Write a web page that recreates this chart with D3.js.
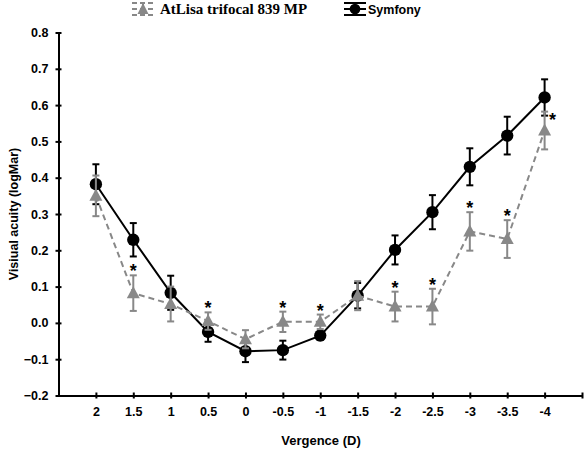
<!DOCTYPE html>
<html><head><meta charset="utf-8">
<script src="https://cdn.jsdelivr.net/npm/d3@7"></script>
<style>body{margin:0;background:#fff}svg{display:block}</style>
</head><body><svg id="c" width="584" height="449"></svg>
<script>
const categories = ["2","1.5","1","0.5","0","-0.5","-1","-1.5","-2","-2.5","-3","-3.5","-4"];
const symfonyValues = [0.382,0.229,0.083,-0.025,-0.078,-0.075,-0.035,0.075,0.201,0.305,0.43,0.516,0.621];
const symfonyErrors = [0.055,0.046,0.047,0.027,0.03,0.026,0.012,0.035,0.04,0.047,0.051,0.052,0.05];
const atlisaValues = [0.35,0.082,0.052,0.005,-0.045,0.003,0.003,0.075,0.045,0.045,0.252,0.231,0.53];
const atlisaErrors = [0.056,0.049,0.048,0.024,0.025,0.028,0.02,0.04,0.041,0.049,0.053,0.052,0.052];
const significant = [false,true,false,true,false,true,true,false,true,true,true,true,true];
const yTicks = [-0.2,-0.1,0.0,0.1,0.2,0.3,0.4,0.5,0.6,0.7,0.8];

const svg = d3.select("#c");
const x = d3.scaleLinear().domain([0, categories.length + 1]).range([58.5, 582]);
const y = d3.scaleLinear().domain([-0.2, 0.8]).range([395.5, 32.5]);
const font = "Arial, 'Liberation Sans', sans-serif";

// axes
const yAxis = svg.append("g").attr("transform","translate(58.5,0)")
  .call(d3.axisLeft(y).tickValues(yTicks).tickFormat(d3.format(".1f")).tickSizeInner(3).tickSizeOuter(0));
yAxis.select(".domain").attr("stroke","#000").attr("stroke-width",2);
yAxis.selectAll(".tick line").attr("x2",3).attr("x1",-3).attr("stroke-width",2);
yAxis.selectAll(".tick text").attr("x",-10).attr("font-family",font).attr("font-weight","bold").attr("font-size",12.5).attr("fill","#000");

const xTickVals = d3.range(1, categories.length + 2);
const xAxis = svg.append("g").attr("transform","translate(0,395.5)")
  .call(d3.axisBottom(x).tickValues(xTickVals).tickFormat(i => categories[i-1] || "").tickSizeInner(3).tickSizeOuter(0));
xAxis.select(".domain").attr("stroke","#000").attr("stroke-width",2);
xAxis.selectAll(".tick line").attr("y1",-3).attr("y2",3).attr("stroke-width",2);
xAxis.selectAll(".tick text").attr("y",12).attr("font-family",font).attr("font-weight","bold").attr("font-size",12.5).attr("fill","#000");

// axis titles
svg.append("text").attr("x",321).attr("y",445).attr("text-anchor","middle")
  .attr("font-family",font).attr("font-weight","bold").attr("font-size",13).text("Vergence (D)");
svg.append("text").attr("transform","translate(18,214) rotate(-90)").attr("text-anchor","middle")
  .attr("font-family",font).attr("font-weight","bold").attr("font-size",12.5).text("Visiual acuity (logMar)");

function drawSeries(vals, errs, color, dashed, shape) {
  const g = svg.append("g");
  const pts = vals.map((v,i)=>({v, e: errs[i], i}));
  const line = d3.line().x(d=>x(d.i+1)).y(d=>y(d.v));
  g.append("path").datum(pts).attr("d",line).attr("fill","none").attr("stroke",color)
    .attr("stroke-width",2).attr("stroke-dasharray", dashed ? "6,4" : null);
  const eb = g.selectAll(".eb").data(pts).join("g");
  eb.append("line").attr("x1",d=>x(d.i+1)).attr("x2",d=>x(d.i+1)).attr("y1",d=>y(d.v+d.e)).attr("y2",d=>y(d.v-d.e)).attr("stroke",color).attr("stroke-width",2);
  eb.append("line").attr("x1",d=>x(d.i+1)-3.5).attr("x2",d=>x(d.i+1)+3.5).attr("y1",d=>y(d.v+d.e)).attr("y2",d=>y(d.v+d.e)).attr("stroke",color).attr("stroke-width",2);
  eb.append("line").attr("x1",d=>x(d.i+1)-3.5).attr("x2",d=>x(d.i+1)+3.5).attr("y1",d=>y(d.v-d.e)).attr("y2",d=>y(d.v-d.e)).attr("stroke",color).attr("stroke-width",2);
  g.selectAll(".m").data(pts).join("path")
    .attr("transform",d=>`translate(${x(d.i+1)},${y(d.v)})`)
    .attr("d", shape === "circle" ? d3.symbol(d3.symbolCircle, 120)() : "M0,-7L6.5,5L-6.5,5Z")
    .attr("fill",color);
}
drawSeries(symfonyValues, symfonyErrors, "#000", false, "circle");
drawSeries(atlisaValues, atlisaErrors, "#888", true, "triangle");

// significance stars
svg.append("g").selectAll("text").data(atlisaValues.map((v,i)=>({v,i,e:atlisaErrors[i]})).filter(d=>significant[d.i]))
  .join("text")
  .attr("x",d=> d.i === categories.length-1 ? x(d.i+1)+8 : x(d.i+1))
  .attr("y",d=> d.i === categories.length-1 ? y(d.v+d.e)+14 : y(d.v+d.e)+2)
  .attr("text-anchor","middle").attr("font-family",font).attr("font-weight","bold").attr("font-size",18).text("*");

// legend
const lg = svg.append("g");
function legendSym(cx, color, dashed, shape) {
  const g = lg.append("g").attr("transform",`translate(${cx},9)`);
  g.append("line").attr("x1",-11).attr("x2",11).attr("y1",0).attr("y2",0).attr("stroke",color).attr("stroke-width",2).attr("stroke-dasharray",dashed?"5,3":null);
  g.append("line").attr("x1",-11).attr("x2",11).attr("y1",-6).attr("y2",-6).attr("stroke",color).attr("stroke-width",2).attr("stroke-dasharray",dashed?"5,3":null);
  g.append("line").attr("x1",-11).attr("x2",11).attr("y1",6).attr("y2",6).attr("stroke",color).attr("stroke-width",2).attr("stroke-dasharray",dashed?"5,3":null);
  g.append("line").attr("x1",0).attr("x2",0).attr("y1",-6).attr("y2",6).attr("stroke",color).attr("stroke-width",2);
  g.append("path").attr("d", shape === "circle" ? d3.symbol(d3.symbolCircle, 90)() : "M0,-6L5.5,5L-5.5,5Z").attr("fill",color);
}
legendSym(143, "#888", true, "triangle");
lg.append("text").attr("x",160).attr("y",14).attr("font-family","'Liberation Serif','Times New Roman',serif").attr("font-weight","bold").attr("font-size",15).text("AtLisa trifocal 839 MP");
legendSym(355, "#000", false, "circle");
lg.append("text").attr("x",368).attr("y",14).attr("font-family",font).attr("font-weight","bold").attr("font-size",12.5).text("Symfony");
</script></body></html>
